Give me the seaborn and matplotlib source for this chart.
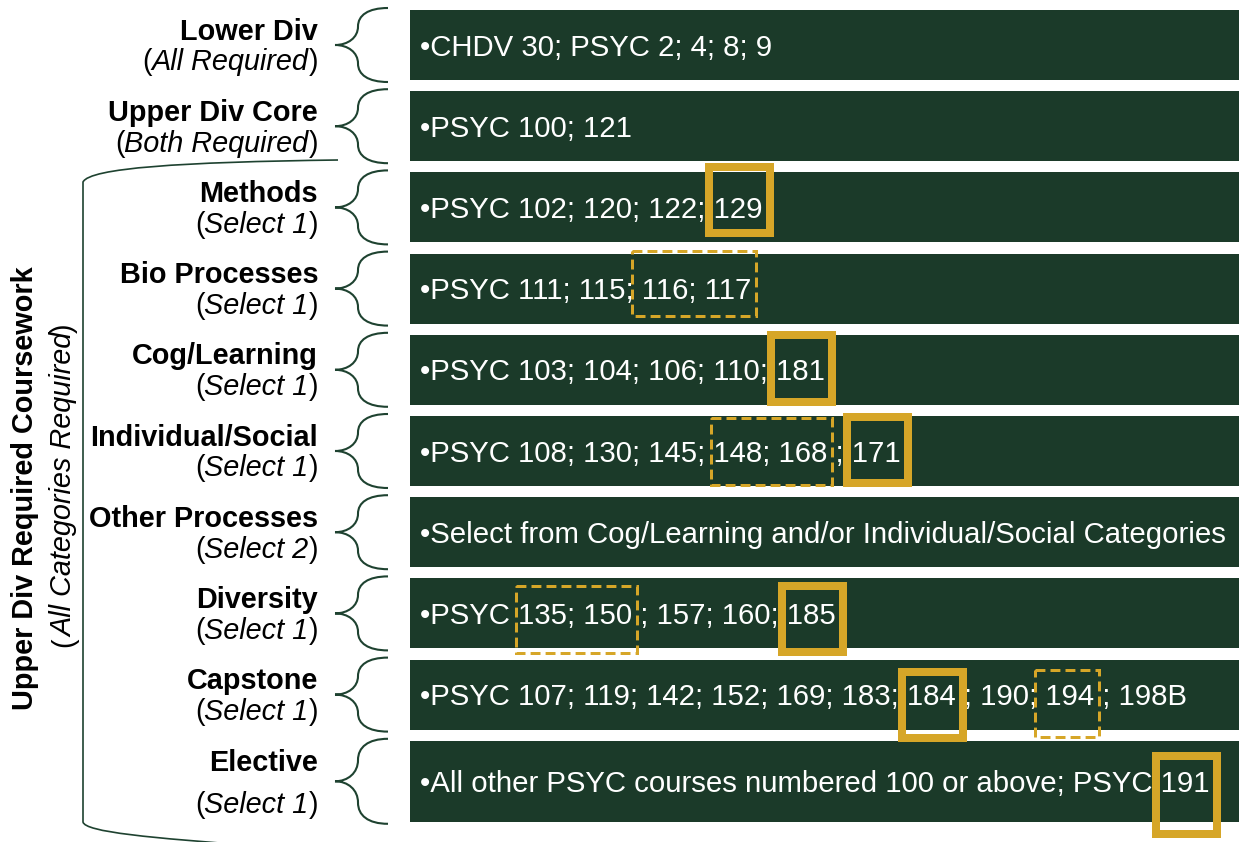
import numpy as np
import pandas as pd
import seaborn as sns
import matplotlib.pyplot as plt
from matplotlib.path import Path
from matplotlib.patches import PathPatch, Rectangle

# ---- data -------------------------------------------------------------
categories = ["Lower Div", "Upper Div Core", "Methods", "Bio Processes",
              "Cog/Learning", "Individual/Social", "Other Processes",
              "Diversity", "Capstone", "Elective"]
notes = ["All Required", "Both Required", "Select 1", "Select 1", "Select 1",
         "Select 1", "Select 2", "Select 1", "Select 1", "Select 1"]
courses = ["•CHDV 30; PSYC 2; 4; 8; 9",
           "•PSYC 100; 121",
           "•PSYC 102; 120; 122; 129",
           "•PSYC 111; 115; 116; 117",
           "•PSYC 103; 104; 106; 110; 181",
           "•PSYC 108; 130; 145; 148; 168 ; 171",
           "•Select from Cog/Learning and/or Individual/Social Categories",
           "•PSYC 135; 150 ; 157; 160; 185",
           "•PSYC 107; 119; 142; 152; 169; 183; 184 ; 190; 194 ; 198B",
           "•All other PSYC courses numbered 100 or above; PSYC 191"]
group_title = "Upper Div Required Coursework"
group_note = "All Categories Required"

# highlighted courses: (row, text, kind)
hl_rows = [2, 3, 4, 5, 5, 7, 7, 8, 8, 9]
hl_text = ["129", " 116; 117", "181", "148; 168", "171",
           "135; 150", "185", "184", " 194", "191"]
hl_kind = ["solid", "dashed", "solid", "dashed", "solid",
           "dashed", "solid", "solid", "dashed", "solid"]

# ---- layout (pixels) --------------------------------------------------
W, H = 1239, 842
PITCH, Y0, BAR_H = 81.2, 45.0, 70.0
BAR_LEFT, TEXT_X, LABEL_X = 410, 420, 318
GREEN, GOLD, LINE = "#1B3A29", "#D6A628", "#1E4230"
# vertical nudges of each highlight box (outer top / bottom vs bar edges)
hl_dy = [(-9, -5), (-4, -6), (-4, 1), (0, 0), (-3, 1),
         (6, 6), (4, 8), (8, 12), (9, 9), (11, 16)]
title_dy = [-5.5] * 9 + [-10]
note_dy = [25.5] * 9 + [32]


def py(y):
    return (y - Y0) / PITCH


def u(d):
    return d / PITCH


sns.set_theme(style="white")
plt.rcParams['font.family'] = ['Liberation Sans', 'DejaVu Sans']

fig = plt.figure(figsize=(W / 100, H / 100), dpi=100)
ax = fig.add_axes([0, 0, 1, 1])

df = pd.DataFrame({"category": categories, "length": [W] * len(categories)})
sns.barplot(data=df, x="length", y="category", orient="h", color=GREEN,
            saturation=1, width=BAR_H / PITCH, linewidth=0, errorbar=None, ax=ax)
for p in ax.patches:
    p.set_x(BAR_LEFT)
ax.patches[-1].set_height(ax.patches[-1].get_height() + u(11))

ax.set_xlim(0, W)
ax.set_ylim(py(H), py(0))
ax.axis("off")

renderer = fig.canvas.get_renderer()


def ink_w(s, **kw):
    t = ax.text(0, 0, s, **kw)
    w = t.get_window_extent(renderer=renderer).width
    t.remove()
    return w


def adv(s, **kw):
    return ink_w(s + "|", **kw) - ink_w("|", **kw)


def brace(top, bottom):
    mid = (top + bottom) / 2
    h = mid - top
    verts = [(388, top), (368, top), (358, top + 0.2 * h), (358, top + 0.5 * h),
             (358, mid - 0.2 * h), (348, mid), (335, mid),
             (348, mid), (358, mid + 0.2 * h), (358, mid + 0.5 * h),
             (358, bottom - 0.2 * h), (368, bottom), (388, bottom)]
    codes = [Path.MOVETO] + [Path.CURVE4] * 12
    ax.add_patch(PathPatch(Path(verts, codes), fill=False, edgecolor=LINE, lw=1.5))


CF = dict(fontsize=21.2, color="white")
TF = dict(fontsize=20.8, color="black")

bars = []
for i, p in enumerate(ax.patches):
    top, hgt = p.get_y(), p.get_height()
    bot, mid = top + hgt, top + hgt / 2
    bars.append((top, bot, mid))
    # course list
    ax.text(TEXT_X, mid + u(10.5), courses[i], ha="left", va="baseline", **CF)
    # brace
    brace(top - u(2), bot + u(2))
    # category title
    ax.text(LABEL_X, mid + u(title_dy[i]), categories[i], ha="right",
            va="baseline", fontweight="bold", **TF)
    # (italic note)
    w1 = adv("(", **TF)
    w2 = adv(notes[i], style="italic", **TF)
    w3 = ink_w(")", **TF)
    xs = LABEL_X - (w1 + w2 + w3)
    yb = mid + u(note_dy[i])
    ax.text(xs, yb, "(", ha="left", va="baseline", **TF)
    ax.text(xs + w1, yb, notes[i], ha="left", va="baseline", style="italic", **TF)
    ax.text(xs + w1 + w2, yb, ")", ha="left", va="baseline", **TF)

# highlight boxes
for r, sub, kind, (dt, db) in zip(hl_rows, hl_text, hl_kind, hl_dy):
    s = courses[r]
    k = s.find(sub)
    x0 = TEXT_X + adv(s[:k], **CF)
    x1 = TEXT_X + adv(s[:k] + sub, **CF)
    top, bot, _ = bars[r]
    if kind == "solid":
        lw, x0, x1, ls = 8, x0 - 5, x1 + 7, "-"
    else:
        lw, x0, x1, ls = 3, x0 - 2, x1 + 5, (0, (3.3, 1.7))
    y0 = top + u(dt) + u(lw / 2)
    y1 = bot + u(db) - u(lw / 2)
    ax.add_patch(Rectangle((x0, y0), x1 - x0, y1 - y0, fill=False,
                           edgecolor=GOLD, lw=lw * 0.72, linestyle=ls,
                           joinstyle="miter", zorder=5))

# big bracket for upper-division coursework
verts = [(338, py(160)), (180, py(162)), (90, py(168)), (83, py(182)),
         (83, py(822)),
         (85, py(832)), (150, py(838)), (260, py(846))]
codes = [Path.MOVETO, Path.CURVE4, Path.CURVE4, Path.CURVE4, Path.LINETO,
         Path.CURVE4, Path.CURVE4, Path.CURVE4]
ax.add_patch(PathPatch(Path(verts, codes), fill=False, edgecolor=LINE, lw=1.2))

# rotated group label
RF = dict(fontsize=20.8, color="black", rotation=90, rotation_mode="anchor",
          ha="left", va="baseline")
tot = ink_w(group_title, fontweight="bold", fontsize=20.8)
ax.text(33, py(488 + tot / 2), group_title, fontweight="bold", **RF)

w1 = adv("(", fontsize=20.8)
w2 = adv(group_note, style="italic", fontsize=20.8)
w3 = ink_w(")", fontsize=20.8)
ys = 485 + (w1 + w2 + w3) / 2
ax.text(72, py(ys), "(", **RF)
ax.text(72, py(ys - w1), group_note, style="italic", **RF)
ax.text(72, py(ys - w1 - w2), ")", **RF)

fig.savefig("out.png", dpi=100, facecolor="white")
